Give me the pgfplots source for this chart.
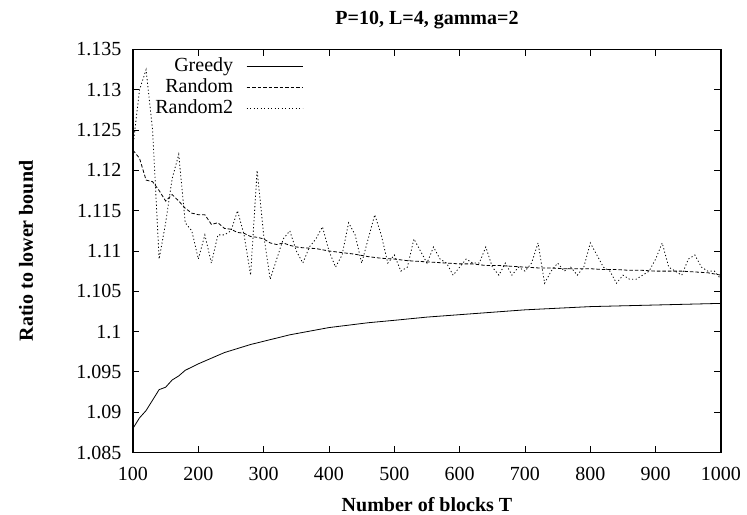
\documentclass[border=0pt]{standalone}
\usepackage{pgfplots}
\pgfplotsset{compat=1.18}
\usepackage{fontspec}
\setmainfont{Liberation Serif}
\begin{document}
\begin{tikzpicture}
\begin{axis}[
  scale only axis,
  width=588bp, height=403bp,
  xmin=100, xmax=1000, ymin=1.085, ymax=1.135,
  xtick={100,200,...,1000},
  ytick={1.085,1.09,1.095,1.1,1.105,1.11,1.115,1.12,1.125,1.13,1.135},
  tick align=inside, xtick pos=both, ytick pos=both,
  major tick length=6.5bp,
  axis line style={line width=1.3bp},
  every tick/.style={line width=0.8bp, black},
  font=\fontsize{20bp}{24bp}\selectfont,
  /pgf/number format/assume math mode=true,
  xticklabel style={yshift=-11bp, /pgf/number format/.cd, fixed, 1000 sep={}},
  yticklabel style={xshift=-8bp, /pgf/number format/.cd, fixed, precision=3},
  title={\bfseries P=10, L=4, gamma=2},
  title style={at={(axis description cs:0.5,1.0)}, anchor=center, yshift=23.5bp, font=\fontsize{20bp}{24bp}\selectfont},
  xlabel={\bfseries Number of blocks T},
  xlabel style={at={(axis description cs:0.5,0)}, anchor=center, yshift=-52.5bp, font=\fontsize{20bp}{24bp}\selectfont},
  ylabel={\bfseries Ratio to lower bound},
  ylabel style={at={(axis description cs:-0.182,0.5)}, anchor=center, font=\fontsize{20bp}{24bp}\selectfont},
  legend style={draw=none, fill=none, at={(0.289,0.9845)}, anchor=north east,
    inner sep=0bp, outer sep=0bp,
    legend cell align=right, row sep=0bp,
    nodes={inner xsep=0bp, inner ysep=1bp, text height=14.5bp, text depth=4.5bp},
    font=\fontsize{20bp}{24bp}\selectfont,
    /tikz/every odd column/.append style={column sep=13bp}},
  legend plot pos=right,
  legend image code/.code={\draw[#1] (0bp,0bp) -- (56bp,0bp);},
]
\addplot[black, line width=0.8bp] coordinates {
(100,1.0880)(110,1.0893)(120,1.0902)(130,1.0915)(140,1.0928)(150,1.0931)(160,1.0940)(170,1.0945)(180,1.0952)(190,1.0956)(200,1.0960)(220,1.0967)(240,1.0974)(260,1.0979)(280,1.0984)(300,1.0988)(320,1.0992)(340,1.0996)(360,1.0999)(380,1.1002)(400,1.1005)(430,1.1008)(460,1.1011)(500,1.1014)(550,1.1018)(600,1.1021)(650,1.1024)(700,1.1027)(750,1.1029)(800,1.1031)(850,1.1032)(900,1.1033)(950,1.1034)(1000,1.1035)};
\addlegendentry{Greedy}
\addplot[black, line width=0.8bp, dash pattern=on 3.5bp off 2bp] coordinates {
(100,1.1225)(110,1.1215)(120,1.1188)(130,1.1186)(140,1.1175)(150,1.1162)(160,1.1170)(170,1.1162)(180,1.1153)(190,1.1147)(200,1.1145)(210,1.1145)(220,1.1133)(230,1.1135)(240,1.1128)(250,1.1127)(260,1.1123)(270,1.1122)(280,1.1118)(290,1.1117)(300,1.1115)(310,1.1110)(320,1.1108)(330,1.1110)(340,1.1107)(350,1.1105)(360,1.1104)(380,1.1103)(400,1.1100)(420,1.1098)(440,1.1096)(460,1.1093)(480,1.1091)(500,1.1090)(520,1.1088)(540,1.1087)(560,1.1086)(580,1.1085)(600,1.1084)(620,1.1084)(640,1.1082)(660,1.1082)(680,1.1081)(700,1.1080)(720,1.1079)(740,1.1079)(760,1.1078)(780,1.1078)(800,1.1078)(820,1.1077)(840,1.1077)(860,1.1076)(880,1.1076)(900,1.1075)(920,1.1075)(940,1.1075)(960,1.1074)(980,1.1073)(1000,1.1070)};
\addlegendentry{Random}
\addplot[black, line width=0.8bp, dash pattern=on 1.2bp off 2.3bp] coordinates {
(100,1.123)(110,1.130)(120,1.1325)(130,1.125)(140,1.109)(150,1.1135)(160,1.119)(170,1.122)(180,1.1135)(190,1.1125)(200,1.109)(210,1.112)(220,1.1085)(230,1.112)(240,1.112)(250,1.1125)(260,1.115)(270,1.112)(280,1.107)(290,1.120)(300,1.112)(310,1.1065)(320,1.109)(330,1.1115)(340,1.1125)(350,1.110)(360,1.1085)(370,1.1105)(380,1.1115)(390,1.113)(400,1.110)(410,1.108)(420,1.1095)(430,1.1135)(440,1.112)(450,1.1085)(460,1.1115)(470,1.1145)(480,1.112)(490,1.1085)(500,1.1095)(510,1.1075)(520,1.108)(530,1.1115)(540,1.110)(550,1.1085)(560,1.1105)(570,1.109)(580,1.1085)(590,1.107)(600,1.108)(610,1.109)(620,1.1085)(630,1.1085)(640,1.1105)(650,1.108)(660,1.107)(670,1.1085)(680,1.107)(690,1.108)(700,1.1075)(710,1.1085)(720,1.111)(730,1.106)(740,1.1075)(750,1.1085)(760,1.1075)(770,1.108)(780,1.107)(790,1.108)(800,1.111)(810,1.1095)(820,1.108)(830,1.1075)(840,1.106)(850,1.107)(860,1.1065)(870,1.1065)(880,1.107)(890,1.1075)(900,1.109)(910,1.111)(920,1.108)(930,1.1075)(940,1.107)(950,1.109)(960,1.1095)(970,1.108)(980,1.1075)(990,1.1075)(1000,1.1065)};
\addlegendentry{Random2}
\end{axis}
\pgfresetboundingbox
\path[use as bounding box] (-133bp,-62.5bp) rectangle (614bp,452.5bp);
\end{tikzpicture}
\end{document}
